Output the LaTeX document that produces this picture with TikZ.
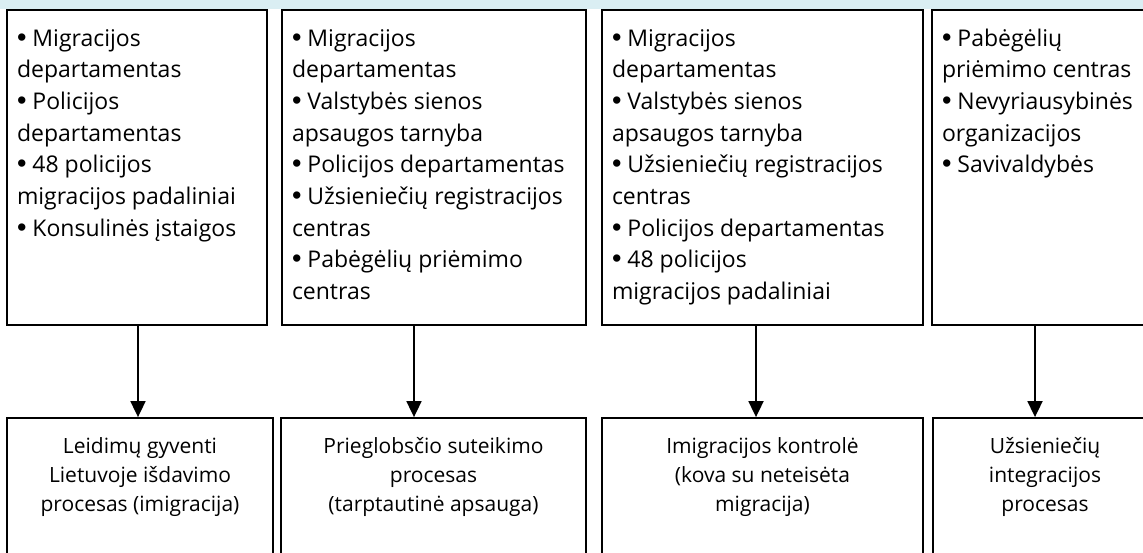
\documentclass[tikz,border=0pt]{standalone}
\usepackage{fontspec}
\setmainfont{Open Sans}
\newfontfamily\bulletfont{Liberation Sans}
\usetikzlibrary{calc}
\usetikzlibrary{arrows.meta}

\definecolor{bandblue}{RGB}{218,238,243}
\newcommand{\instbullet}{{\bulletfont\fontsize{27}{31.7}\selectfont\textbullet}\ }

\begin{document}
\begin{tikzpicture}[x=1pt, y=-1pt, line width=1.8pt, >={Triangle[length=16pt,width=15pt]}]
\tikzset{box/.style={draw=black,rectangle,inner sep=0,minimum width=#1}}
% base of a multi-line node is its last line
\tikzset{list/.style={anchor=base west,align=left,inner sep=0,font=\fontsize{23}{31.7}\selectfont}}
\tikzset{proc/.style={anchor=base,align=center,inner sep=0,font=\fontsize{21}{29}\selectfont}}

\useasboundingbox (0,0) rectangle (1143,553);
\clip (0,0) rectangle (1143,553);

% header strip, cut off at the top
\fill[bandblue] (0,0) rectangle (1143,9);

% institutions
\node[box=260, minimum height=315] (top1) at (137,167.5) {};
\node[box=304, minimum height=315] (top2) at (434,167.5) {};
\node[box=321, minimum height=315] (top3) at (762.5,167.5) {};
\node[box=225, minimum height=315] (top4) at (1044.5,167.5) {};

\node[list] (inst1) at ([shift={(10,227.2)}]top1.north west)
  {\instbullet Migracijos\\departamentas\\\instbullet Policijos\\departamentas\\\instbullet 48 policijos\\migracijos padaliniai\\\instbullet Konsulinės įstaigos};
\node[list] (inst2) at ([shift={(10,290.6)}]top2.north west)
  {\instbullet Migracijos\\departamentas\\\instbullet Valstybės sienos\\apsaugos tarnyba\\\instbullet Policijos departamentas\\\instbullet Užsieniečių registracijos\\centras\\\instbullet Pabėgėlių priėmimo\\centras};
\node[list] (inst3) at ([shift={(10,290.6)}]top3.north west)
  {\instbullet Migracijos\\departamentas\\\instbullet Valstybės sienos\\apsaugos tarnyba\\\instbullet Užsieniečių registracijos\\centras\\\instbullet Policijos departamentas\\\instbullet 48 policijos\\migracijos padaliniai};
\node[list] (inst4) at ([shift={(10,163.8)}]top4.north west)
  {\instbullet Pabėgėlių\\priėmimo centras\\\instbullet Nevyriausybinės\\organizacijos\\\instbullet Savivaldybės};

% processes
\node[box=266, minimum height=157] (bot1) at (140,496.5) {};
\node[box=305, minimum height=157] (bot2) at (433.5,496.5) {};
\node[box=321, minimum height=157] (bot3) at (762.5,496.5) {};
\node[box=224, minimum height=157] (bot4) at (1045,496.5) {};

\node[proc] (proc1) at ([shift={(0,94)}]bot1.north) {Leidimų gyventi\\Lietuvoje išdavimo\\procesas (imigracija)};
\node[proc] (proc2) at ([shift={(0,94)}]bot2.north) {Prieglobsčio suteikimo\\procesas\\(tarptautinė apsauga)};
\node[proc] (proc3) at ([shift={(0,94)}]bot3.north) {Imigracijos kontrolė\\(kova su neteisėta\\migracija)};
\node[proc] (proc4) at ([shift={(0,94)}]bot4.north) {Užsieniečių\\integracijos\\procesas};

% arrows
\draw[->] ([xshift=1pt]top1.south) -- ([xshift=1pt]top1.south |- bot1.north);
\draw[->] ([xshift=-20pt]top2.south) -- ([xshift=-20pt]top2.south |- bot2.north);
\draw[->] ([xshift=-6.5pt]top3.south) -- ([xshift=-6.5pt]top3.south |- bot3.north);
\draw[->] ([xshift=-9.5pt]top4.south) -- ([xshift=-9.5pt]top4.south |- bot4.north);

\end{tikzpicture}
\end{document}
